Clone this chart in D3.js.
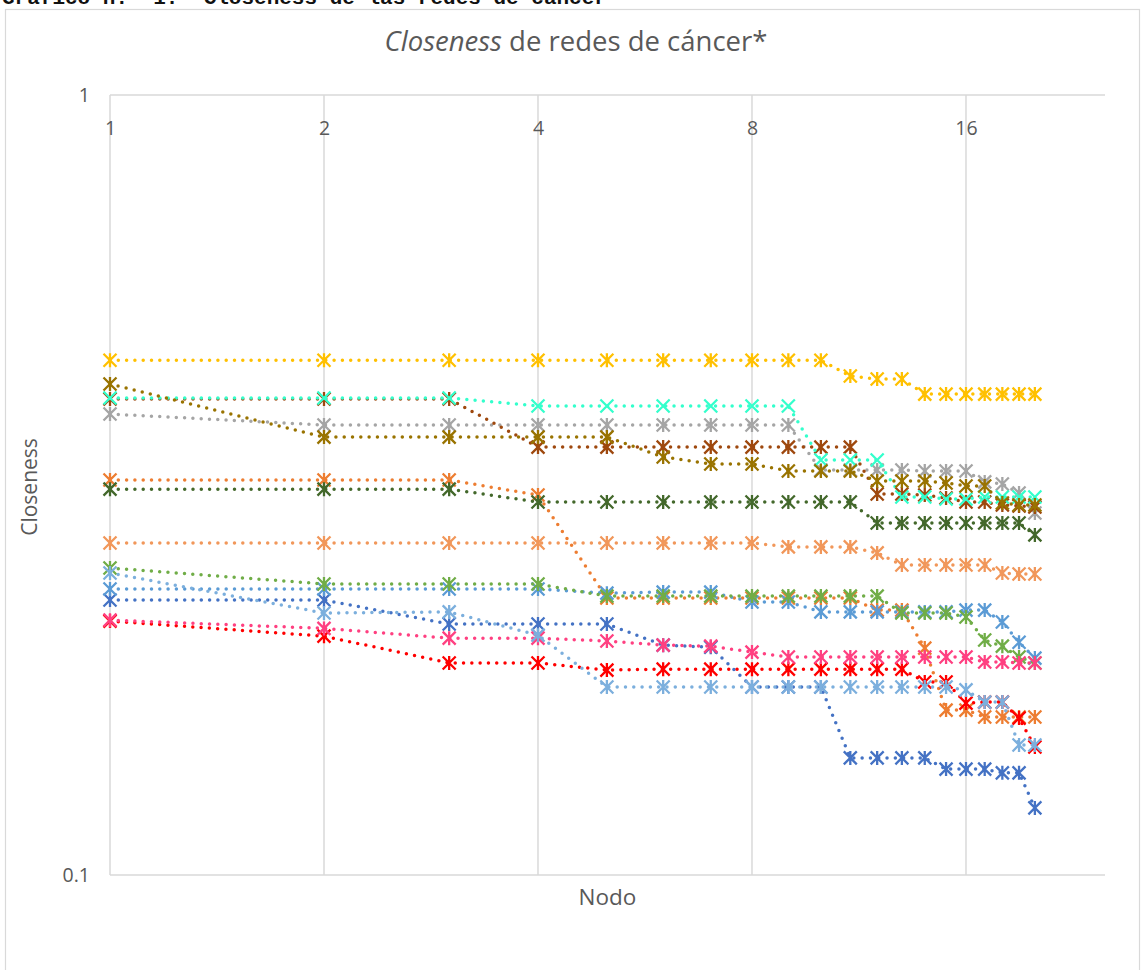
<!DOCTYPE html>
<html>
<head>
<meta charset="utf-8">
<script src="https://cdn.jsdelivr.net/npm/d3@7"></script>
<style>
  body { margin: 0; background: #fff; }
  svg { display: block; }
  text { font-family: 'Open Sans', 'Noto Sans', sans-serif; }
</style>
</head>
<body>
<svg id="chart" width="1143" height="970"></svg>
<script>
// Node positions (x) and closeness values (y) per cancer network
const nodes = [1, 2, 3, 4, 5, 6, 7, 8, 9, 10, 11, 12, 13, 14, 15, 16, 17, 18, 19, 20];

const xTickValues = [1, 2, 4, 8, 16];
const xTickLabels = ["1", "2", "4", "8", "16"];
const yTickValues = [0.1, 1];
const yTickLabels = ["0.1", "1"];

const seriesNames = ["Red 1", "Red 2", "Red 3", "Red 4", "Red 5", "Red 6", "Red 7",
                     "Red 8", "Red 9", "Red 10", "Red 11", "Red 12", "Red 13", "Red 14"];

const valuesBlue       = [0.2252, 0.2252, 0.2098, 0.2098, 0.2098, 0.1971, 0.1959, 0.1742, 0.1742, 0.1742, 0.1413, 0.1413, 0.1413, 0.1413, 0.1367, 0.1367, 0.1367, 0.1352, 0.1352, 0.1219];
const valuesOrange     = [0.3209, 0.3209, 0.3209, 0.3070, 0.2265, 0.2265, 0.2265, 0.2265, 0.2265, 0.2265, 0.2265, 0.2186, 0.2186, 0.1954, 0.1627, 0.1627, 0.1594, 0.1594, 0.1594, 0.1594];
const valuesGray       = [0.3899, 0.3775, 0.3775, 0.3775, 0.3775, 0.3775, 0.3775, 0.3775, 0.3775, 0.3305, 0.3305, 0.3305, 0.3305, 0.3296, 0.3296, 0.3296, 0.3191, 0.3172, 0.3088, 0.2911];
const valuesGold       = [0.457, 0.457, 0.457, 0.457, 0.457, 0.457, 0.457, 0.457, 0.457, 0.457, 0.4362, 0.4324, 0.4324, 0.4136, 0.4136, 0.4136, 0.4136, 0.4136, 0.4136, 0.4136];
const valuesMidBlue    = [0.2326, 0.2326, 0.2326, 0.2326, 0.2298, 0.2305, 0.2305, 0.2239, 0.2239, 0.2174, 0.2174, 0.2174, 0.2174, 0.2174, 0.2174, 0.2186, 0.2186, 0.2110, 0.1988, 0.1897];
const valuesGreen      = [0.2475, 0.2361, 0.2361, 0.2361, 0.2278, 0.2278, 0.2278, 0.2278, 0.2278, 0.2278, 0.2278, 0.2278, 0.2167, 0.2167, 0.2167, 0.2142, 0.2001, 0.1965, 0.1903, 0.1870];
const valuesRed        = [0.2116, 0.2024, 0.1870, 0.1870, 0.1831, 0.1836, 0.1836, 0.1836, 0.1836, 0.1836, 0.1836, 0.1836, 0.1836, 0.1768, 0.1768, 0.1661, 0.1666, 0.1666, 0.1589, 0.1459];
const valuesBrown      = [0.4076, 0.4076, 0.4076, 0.3537, 0.3537, 0.3537, 0.3537, 0.3537, 0.3537, 0.3537, 0.3537, 0.3079, 0.3079, 0.3070, 0.3043, 0.3007, 0.3007, 0.2981, 0.2972, 0.2963];
const valuesCyan       = [0.4088, 0.4088, 0.4088, 0.3993, 0.3993, 0.3993, 0.3993, 0.3993, 0.3993, 0.3404, 0.3404, 0.3404, 0.3052, 0.3052, 0.3034, 0.3034, 0.3052, 0.3052, 0.3052, 0.3052];
const valuesDarkYellow = [0.4261, 0.3643, 0.3643, 0.3643, 0.3643, 0.3435, 0.3365, 0.3365, 0.3296, 0.3296, 0.3296, 0.3200, 0.3200, 0.3200, 0.3181, 0.3153, 0.3153, 0.2999, 0.2981, 0.2981];
const valuesPink       = [0.2122, 0.2071, 0.2012, 0.2012, 0.1995, 0.1971, 0.1965, 0.1931, 0.1903, 0.1903, 0.1903, 0.1903, 0.1903, 0.1903, 0.1903, 0.1903, 0.1875, 0.1875, 0.1870, 0.1870];
const valuesDarkGreen  = [0.3124, 0.3124, 0.3124, 0.3007, 0.3007, 0.3007, 0.3007, 0.3007, 0.3007, 0.3007, 0.3007, 0.2827, 0.2827, 0.2827, 0.2827, 0.2827, 0.2827, 0.2827, 0.2827, 0.2729];
const valuesLightOrange= [0.2665, 0.2665, 0.2665, 0.2665, 0.2665, 0.2665, 0.2665, 0.2665, 0.2634, 0.2634, 0.2634, 0.2588, 0.2497, 0.2497, 0.2497, 0.2497, 0.2497, 0.2439, 0.2432, 0.2432];
const valuesLightBlue  = [0.2439, 0.2167, 0.2174, 0.2030, 0.1742, 0.1742, 0.1742, 0.1742, 0.1742, 0.1742, 0.1742, 0.1742, 0.1742, 0.1742, 0.1742, 0.1727, 0.1666, 0.1666, 0.1468, 0.1468];

const seriesColors  = ["#4472C4", "#ED7D31", "#A5A5A5", "#FFC000", "#5B9BD5", "#70AD47", "#FF0000",
                       "#9E480E", "#33FFCC", "#997300", "#FF4081", "#43682B", "#F1975A", "#7CAFDD"];
const seriesMarkers = ["star", "star", "star", "star", "star", "star", "star",
                       "star", "x", "star", "star", "star", "star", "star"];
const seriesValues  = [valuesBlue, valuesOrange, valuesGray, valuesGold, valuesMidBlue, valuesGreen, valuesRed,
                       valuesBrown, valuesCyan, valuesDarkYellow, valuesPink, valuesDarkGreen, valuesLightOrange, valuesLightBlue];

const series = seriesNames.map((name, i) => ({
  name,
  color: seriesColors[i],
  marker: seriesMarkers[i],
  points: nodes.map((n, j) => ({ node: n, value: seriesValues[i][j] }))
}));

const svg = d3.select("#chart");
const plot = { left: 110, right: 1105, top: 95, bottom: 875 };

const x = d3.scaleLog().base(2).domain([1, 25.1]).range([plot.left, plot.right]);
const y = d3.scaleLog().domain([0.1, 1]).range([plot.bottom, plot.top]);

// Caption line above the chart frame
svg.append("text")
  .attr("x", 2).attr("y", 4)
  .style("font-family", "'Liberation Mono', monospace")
  .style("font-weight", "bold")
  .attr("font-size", 21)
  .attr("fill", "#111")
  .attr("xml:space", "preserve")
  .text("Gráfico n.° 1.  Closeness de las redes de cáncer");

// Chart frame
svg.append("rect")
  .attr("x", 5.5).attr("y", 9.5)
  .attr("width", 1134).attr("height", 1000)
  .attr("fill", "#fff")
  .attr("stroke", "#D9D9D9").attr("stroke-width", 1.2);

// Title
const title = svg.append("text")
  .attr("x", 576).attr("y", 51)
  .attr("text-anchor", "middle")
  .attr("font-size", 27.5)
  .attr("fill", "#595959");
title.append("tspan").attr("font-style", "italic").text("Closeness");
title.append("tspan").text(" de redes de cáncer*");

// Gridlines
const grid = svg.append("g").attr("stroke", "#D9D9D9").attr("stroke-width", 1.5);
grid.selectAll("line.v").data(xTickValues).join("line")
  .attr("x1", d => x(d)).attr("x2", d => x(d))
  .attr("y1", plot.top).attr("y2", plot.bottom);
grid.selectAll("line.h").data(yTickValues).join("line")
  .attr("x1", plot.left).attr("x2", plot.right)
  .attr("y1", d => y(d)).attr("y2", d => y(d));

// Axes (labels only; lines come from the grid)
const xAxis = d3.axisBottom(x)
  .tickValues(xTickValues)
  .tickFormat((d, i) => xTickLabels[i])
  .tickSize(0).tickPadding(26);
const gx = svg.append("g").attr("transform", `translate(0,${plot.top})`).call(xAxis);
gx.select(".domain").remove();
gx.selectAll("text").attr("font-size", 19.5).attr("fill", "#595959")
  .attr("font-family", "'Open Sans', sans-serif");

const yAxis = d3.axisLeft(y)
  .tickValues(yTickValues)
  .tickFormat((d, i) => yTickLabels[i])
  .tickSize(0).tickPadding(20);
const gy = svg.append("g").attr("transform", `translate(${plot.left},0)`).call(yAxis);
gy.select(".domain").remove();
gy.selectAll("text").attr("font-size", 19.5).attr("fill", "#595959")
  .attr("font-family", "'Open Sans', sans-serif");

// Axis titles
svg.append("text")
  .attr("transform", "translate(37,487) rotate(-90)")
  .attr("text-anchor", "middle")
  .attr("font-size", 21).attr("fill", "#595959")
  .text("Closeness");
svg.append("text")
  .attr("x", (plot.left + plot.right) / 2).attr("y", 905)
  .attr("text-anchor", "middle")
  .attr("font-size", 22.5).attr("fill", "#595959")
  .text("Nodo");

// Series: dotted lines with star / x markers
const line = d3.line().x(d => x(d.node)).y(d => y(d.value));
const r = 6.5;
const markerPath = type => type === "x"
  ? `M${-r},${-r}L${r},${r}M${-r},${r}L${r},${-r}`
  : `M${-r},${-r}L${r},${r}M${-r},${r}L${r},${-r}M0,${-r - 0.5}L0,${r + 0.5}`;

const gs = svg.append("g").selectAll("g").data(series).join("g");
gs.append("path")
  .attr("d", d => line(d.points))
  .attr("fill", "none")
  .attr("stroke", d => d.color)
  .attr("stroke-width", 3.5)
  .attr("stroke-linecap", "round")
  .attr("stroke-dasharray", "0 8.3");
gs.each(function (s) {
  d3.select(this).selectAll("path.m").data(s.points).join("path")
    .attr("class", "m")
    .attr("transform", d => `translate(${x(d.node)},${y(d.value)})`)
    .attr("d", markerPath(s.marker))
    .attr("fill", "none")
    .attr("stroke", s.color)
    .attr("stroke-width", 2.3);
});
</script>
</body>
</html>
